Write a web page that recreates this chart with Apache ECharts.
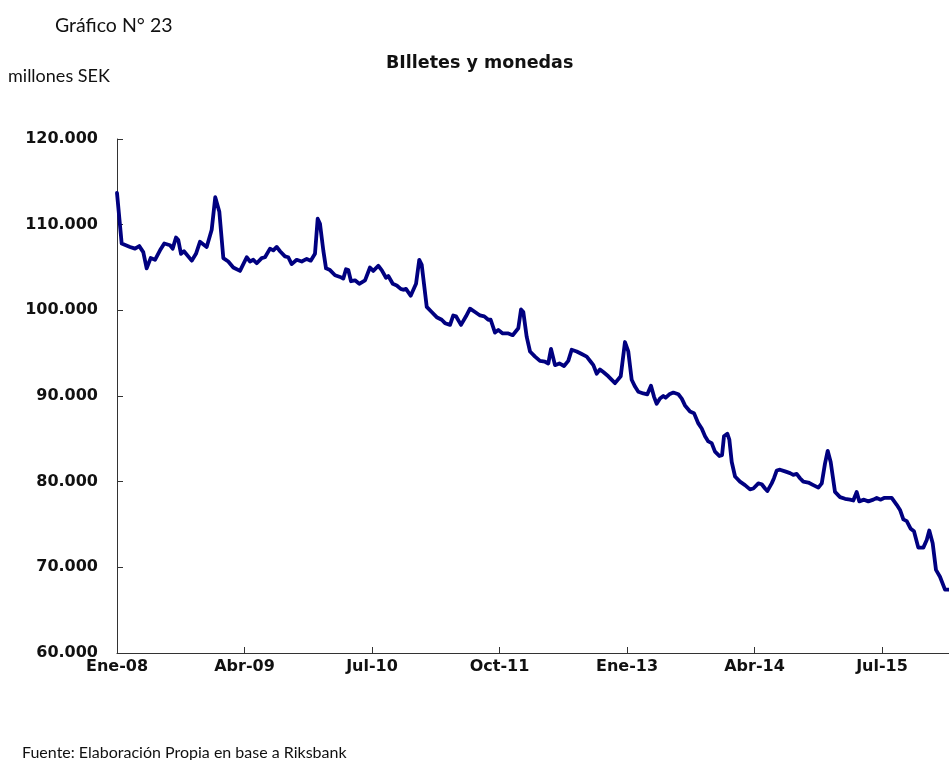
<!DOCTYPE html>
<html>
<head>
<meta charset="utf-8">
<script src="https://cdn.jsdelivr.net/npm/echarts@6/dist/echarts.min.js"></script>
<style>
html,body{margin:0;padding:0;background:#fff;}
#c{width:949px;height:760px;}
</style>
</head>
<body>
<div id="c"></div>
<script>
// x positions: months elapsed since January 2008
var months = [0.0,0.55,1.53,2.12,2.62,3.09,3.49,3.96,4.47,5.06,5.56,6.24,6.55,6.94,7.21,7.53,7.88,8.79,9.29,9.76,10.55,11.14,11.56,12.04,12.51,13.09,13.68,14.47,
15.26,15.65,16.04,16.44,17.02,17.41,18.0,18.39,18.79,19.18,19.76,20.15,20.55,21.14,21.73,22.32,22.79,23.29,23.61,23.88,24.27,24.59,25.06,25.65,26.24,26.62,26.94,27.21,27.53,28.0,28.5,29.18,29.76,
30.15,30.74,31.14,31.65,31.92,32.44,32.91,33.38,33.68,34.0,34.55,35.18,35.56,35.85,36.44,37.02,37.61,38.2,38.59,39.18,39.56,39.88,40.47,41.06,41.53,42.12,42.71,43.21,43.68,43.96,44.47,44.86,
45.38,46.04,46.55,47.21,47.53,47.8,48.2,48.59,49.18,49.76,50.35,50.74,51.06,51.53,52.04,52.59,53.09,53.49,54.08,54.67,55.26,55.73,56.04,56.44,56.82,57.21,57.8,58.59,59.26,59.76,
60.15,60.55,60.94,61.33,61.92,62.39,62.82,63.18,63.49,63.88,64.27,64.55,64.98,65.45,66.04,66.44,66.82,67.41,67.88,68.39,68.79,69.18,69.56,69.96,70.35,70.86,71.18,71.41,71.8,72.04,72.32,72.71,73.29,73.88,74.47,74.86,
75.45,75.85,76.24,76.51,77.02,77.29,77.61,78.0,78.59,79.18,79.56,79.96,80.35,80.74,81.33,81.92,82.51,82.91,83.29,83.61,83.96,84.47,85.06,85.65,86.24,86.62,87.02,87.33,87.88,88.39,88.98,89.38,89.85,
90.24,90.74,91.14,91.73,92.12,92.51,92.91,93.38,93.76,94.27,94.86,95.26,95.56,95.96,96.35,96.82,97.41,97.8];

// Billetes y monedas, thousands of millones SEK
var billetes = [113.7,107.8,107.4,107.2,107.5,106.8,104.9,106.1,105.9,107.0,107.8,107.6,107.2,108.5,108.2,106.6,106.9,105.8,106.6,108.0,107.4,109.4,113.2,111.5,106.1,105.7,105.0,104.6,
106.2,105.7,105.9,105.5,106.1,106.2,107.2,107.0,107.4,106.9,106.3,106.2,105.4,105.9,105.7,106.0,105.8,106.6,110.7,110.1,107.0,104.9,104.7,104.1,103.9,103.7,104.8,104.7,103.4,103.5,103.1,103.5,105.0,
104.6,105.2,104.7,103.8,104.0,103.1,102.9,102.5,102.4,102.5,101.7,103.1,105.9,105.3,100.4,99.8,99.2,98.9,98.5,98.3,99.4,99.3,98.3,99.3,100.2,99.8,99.4,99.3,98.9,98.9,97.4,97.7,
97.3,97.3,97.1,97.9,100.1,99.8,96.9,95.2,94.6,94.1,94.0,93.8,95.5,93.6,93.8,93.5,94.1,95.4,95.2,94.9,94.6,94.0,93.6,92.6,93.1,92.8,92.3,91.5,92.3,96.3,
95.2,91.9,91.1,90.5,90.3,90.2,91.2,89.9,89.1,89.7,90.0,89.8,90.2,90.4,90.2,89.7,88.9,88.2,88.0,86.8,86.2,85.3,84.7,84.5,83.5,83.0,83.1,85.3,85.6,84.9,82.3,80.6,80.0,79.6,79.1,79.2,
79.8,79.7,79.2,78.9,79.8,80.4,81.3,81.4,81.2,81.0,80.8,80.9,80.4,80.0,79.9,79.6,79.3,79.8,82.1,83.6,82.3,78.8,78.2,78.0,77.9,77.8,78.8,77.7,77.9,77.7,77.9,78.1,77.9,
78.1,78.1,78.1,77.3,76.7,75.6,75.4,74.5,74.2,72.3,72.3,73.2,74.3,72.8,69.7,68.9,67.4,67.4];

var xTickLabels = ['Ene-08','Abr-09','Jul-10','Oct-11','Ene-13','Abr-14','Jul-15'];
var yTickValues = [60,70,80,90,100,110,120];

var chart = echarts.init(document.getElementById('c'), null, {renderer:'canvas'});
var seriesData = months.map(function(m,i){ return [m, billetes[i]]; });
var boldFont = 'DejaVu Sans';

chart.setOption({
  animation:false,
  backgroundColor:'#ffffff',
  grid:{left:117,right:0,top:139,bottom:107,containLabel:false},
  xAxis:{
    type:'value', min:0, max:97.88, interval:15,
    axisLine:{show:true,lineStyle:{color:'#333',width:1}},
    axisTick:{show:true,inside:true,length:6,lineStyle:{color:'#333'}},
    splitLine:{show:false},
    axisLabel:{
      showMaxLabel:false,
      margin:6,
      color:'#111', fontFamily:boldFont, fontWeight:'bold', fontSize:16,
      formatter:function(v){ var k=Math.round(v/15); return (Math.abs(v-k*15)<1e-6 && xTickLabels[k]) ? xTickLabels[k] : ''; }
    }
  },
  yAxis:{
    type:'value', min:yTickValues[0], max:yTickValues[yTickValues.length-1], interval:10,
    axisLine:{show:true,lineStyle:{color:'#333',width:1}},
    axisTick:{show:true,inside:true,length:6,lineStyle:{color:'#333'}},
    splitLine:{show:false},
    axisLabel:{
      margin:19,
      color:'#111', fontFamily:boldFont, fontWeight:'bold', fontSize:16,
      formatter:function(v){ return v + '.000'; }
    }
  },
  series:[{
    type:'line',
    data:seriesData,
    showSymbol:false,
    smooth:false,
    clip:true,
    lineStyle:{color:'#000080',width:3.8,join:'round',cap:'round'}
  }],
  graphic:[
    {type:'text',left:55,top:16,style:{text:'Gráfico N° 23',font:'19.5px Lato',fill:'#111'}},
    {type:'text',left:8,top:67,style:{text:'millones SEK',font:'18px Lato',fill:'#111'}},
    {type:'text',left:386,top:54,style:{text:'BIlletes y monedas',font:'bold 17.5px "DejaVu Sans"',fill:'#111'}},
    {type:'text',left:22,top:745,style:{text:'Fuente: Elaboración Propia en base a Riksbank',font:'16px Lato',fill:'#111'}}
  ]
});
</script>
</body>
</html>
